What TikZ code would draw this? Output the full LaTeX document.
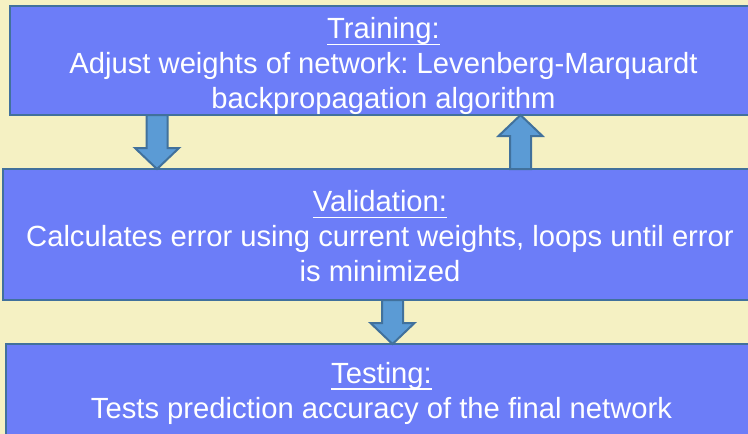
\documentclass[tikz,border=0pt]{standalone}
\usepackage{fontspec}
\setsansfont{Liberation Sans}
\usepackage{xcolor}
\usepackage{tikz}
\usetikzlibrary{positioning,calc}

\definecolor{bgcream}{HTML}{F5F1C3}
\definecolor{boxblue}{HTML}{6C7DF8}
\definecolor{edgeblue}{HTML}{41719C}
\definecolor{arrowblue}{HTML}{5B9BD5}

\newcommand\hdul[1]{\setbox0\hbox{#1}\rlap{\rule[-6.5pt]{\wd0}{1.8pt}}\box0}
\newcommand\blockarrow[2]{%
  \coordinate (hb) at ($(#2)!21pt!(#1)$);
  \draw[barrow] ($(#1)!10.5pt!90:(#2)$) -- ($(hb)!10.5pt!-90:(#1)$) -- ($(hb)!22pt!-90:(#1)$)
    -- (#2) -- ($(hb)!22pt!90:(#1)$) -- ($(hb)!10.5pt!90:(#1)$) -- ($(#1)!10.5pt!-90:(#2)$) -- cycle;}

\begin{document}
\frenchspacing
\begin{tikzpicture}[
  x=1pt,y=1pt,
  box/.style={draw=edgeblue,line width=2.4pt,fill=boxblue,text=white,align=center,
    outer sep=0pt,inner sep=0pt,font=\sffamily\fontsize{29.2}{35}\selectfont},
  barrow/.style={draw=edgeblue,line width=2pt,fill=arrowblue,line join=miter}]
\fill[bgcream] (0,0) rectangle (748,-434);
\useasboundingbox (0,0) rectangle (748,-434);
\clip (0,0) rectangle (748,-434);
\node[box,minimum width=747pt,minimum height=107pt] (train) at (383.5,-60.5)
  {\rule{0pt}{33pt}\hdul{Training:}\\Adjust weights of network: Levenberg-Marquardt\\backpropagation algorithm};
\node[box,minimum width=754pt,minimum height=131pt,below=54pt of train,xshift=-3.5pt] (valid)
  {\rule{0pt}{25pt}\hdul{Validation:}\\Calculates error using current weights, loops until error\\is minimized};
\node[box,minimum width=751pt,minimum height=94pt,below=44pt of valid,xshift=1.5pt] (test)
  {\rule{0pt}{25pt}\hdul{Testing:}\\Tests prediction accuracy of the final network};
\coordinate (a1s) at (157,0 |- train.south);
\coordinate (a1t) at (157,0 |- valid.north);
\coordinate (a2s) at (520.5,0 |- valid.north);
\coordinate (a2t) at (520.5,0 |- train.south);
\coordinate (a3s) at (392.5,0 |- valid.south);
\coordinate (a3t) at (392.5,0 |- test.north);
\blockarrow{a1s}{a1t}
\blockarrow{a2s}{a2t}
\blockarrow{a3s}{a3t}
\end{tikzpicture}
\end{document}
